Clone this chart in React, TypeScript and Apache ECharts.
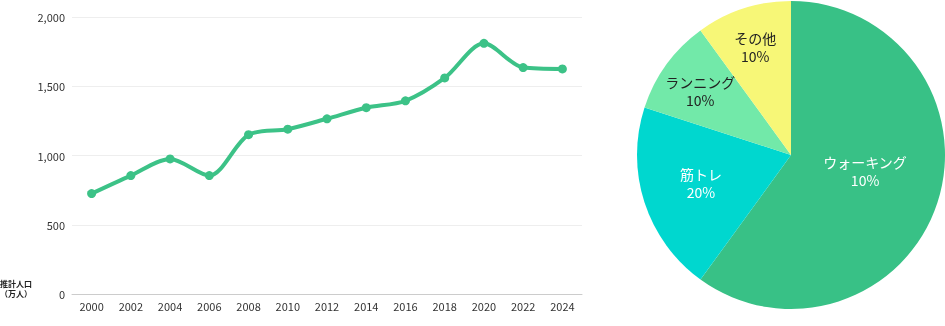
import React, { useEffect, useRef } from "react";
import * as echarts from "echarts";

const years = ["2000", "2002", "2004", "2006", "2008", "2010", "2012", "2014", "2016", "2018", "2020", "2022", "2024"];
const population = [725, 855, 975, 855, 1150, 1190, 1265, 1345, 1395, 1560, 1810, 1635, 1625];
const yTicks = { min: 0, max: 2000, interval: 500 };

const pieNames = ["ウォーキング", "筋トレ", "ランニング", "その他"];
const pieValues = [60, 20, 10, 10];
const pieLabelTexts = ["10%", "20%", "10%", "10%"];

const pieColors = ["#38c186", "#00d7cf", "#72e9a9", "#f7f777"];
const pieLabelColors = ["#ffffff", "#ffffff", "#222222", "#222222"];
const pieLabelOffsets = [[-2, -9], [-14, 3], [-26, -17], [-11, -32]];

const FONT = "'Noto Sans CJK JP', 'Noto Sans', sans-serif";

export default function App() {
  const ref = useRef<HTMLDivElement>(null);
  useEffect(() => {
    document.body.style.margin = "0";
    const chart = echarts.init(ref.current!, null, { renderer: "svg" });
    chart.setOption({
      animation: false,
      textStyle: { fontFamily: FONT },
      grid: { left: 72, right: 363, top: 17, bottom: 32 },
      xAxis: {
        type: "category",
        data: years,
        boundaryGap: true,
        axisLine: { lineStyle: { color: "#cccccc" } },
        axisTick: { show: false },
        axisLabel: { color: "#333333", fontSize: 11, margin: 6, fontFamily: FONT },
      },
      yAxis: {
        type: "value",
        min: yTicks.min,
        max: yTicks.max,
        interval: yTicks.interval,
        axisLine: { show: false },
        axisTick: { show: false },
        splitLine: { lineStyle: { color: "#eeeeee" } },
        axisLabel: {
          color: "#333333",
          fontSize: 11,
          margin: 7,
          fontFamily: FONT,
          formatter: (v: number) => v.toLocaleString("en-US"),
        },
      },
      graphic: [
        {
          type: "text",
          left: 0,
          top: 278,
          style: {
            text: "推計人口\n（万人）",
            fontSize: 8,
            fontWeight: "bold",
            lineHeight: 10,
            fill: "#222222",
            align: "center",
            fontFamily: FONT,
          },
        },
      ],
      series: [
        {
          type: "line",
          data: population,
          smooth: 0.3,
          symbol: "circle",
          symbolSize: 9,
          lineStyle: { color: "#3cc287", width: 4 },
          itemStyle: { color: "#3cc287" },
        },
        {
          type: "pie",
          center: [791, 155],
          radius: [0, 154],
          startAngle: 90,
          clockwise: true,
          itemStyle: { borderWidth: 0 },
          emphasis: { disabled: true },
          data: pieNames.map((n, i) => ({
            name: n,
            value: pieValues[i],
            itemStyle: { color: pieColors[i] },
            label: {
              show: true,
              position: "inside",
              formatter: `${n}\n${pieLabelTexts[i]}`,
              color: pieLabelColors[i],
              fontSize: 14,
              lineHeight: 18,
              fontFamily: FONT,
              offset: pieLabelOffsets[i],
            },
          })),
        },
      ],
    });
    return () => chart.dispose();
  }, []);
  return <div ref={ref} style={{ position: "fixed", left: 0, top: 0, width: 945, height: 326 }} />;
}
